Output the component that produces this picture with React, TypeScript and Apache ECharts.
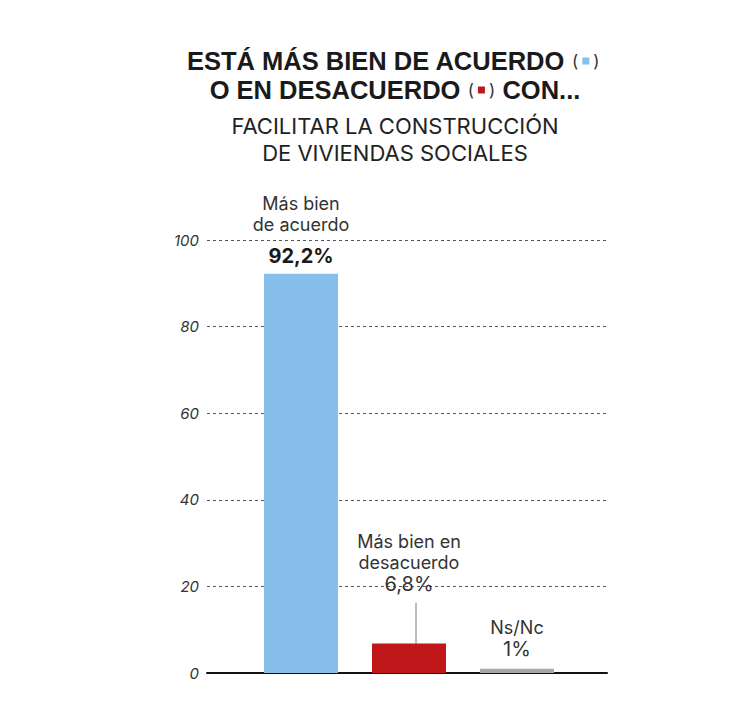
import React, { useEffect, useRef } from "react";
import * as echarts from "echarts";

const categories = ["Más bien de acuerdo", "Más bien en desacuerdo", "Ns/Nc"];
const values = [92.2, 6.8, 1];
const valueLabels = ["92,2%", "6,8%", "1%"];
const barColors = ["#85bfea", "#c0171b", "#a8a8a8"];
const yTicks = [0, 20, 40, 60, 80, 100];
const leaderTop = 16.2;

const FONT = "Inter";
const TFONT = "Liberation Sans";
const CX = 395;

export default function App() {
  const ref = useRef<HTMLDivElement>(null);
  useEffect(() => {
    const chart = echarts.init(ref.current!, null, { renderer: "svg" });
    const top = 240;
    const bottom = 31;
    const titleRich = {
      t: { fontFamily: TFONT, fontSize: 25.5, fontWeight: "bold", fill: "#1a1a1a" },
      p: { fontFamily: FONT, fontSize: 17, fill: "#333", padding: [0, 4, 0, 4] },
      b: { backgroundColor: "#85bfea", width: 7, height: 7 },
      r: { backgroundColor: "#c0171b", width: 7, height: 7 },
    };
    const option: any = {
      animation: false,
      textStyle: { fontFamily: FONT },
      graphic: [
        {
          type: "text",
          x: CX,
          y: 48,
          style: {
            text: "{t|ESTÁ MÁS BIEN DE ACUERDO} {p|(}{b|}{p|)}",
            rich: titleRich,
            align: "center",
          },
        },
        {
          type: "text",
          x: CX,
          y: 77,
          style: {
            text: "{t|O EN DESACUERDO} {p|(}{r|}{p|)} {t|CON...}",
            rich: titleRich,
            align: "center",
          },
        },
        {
          type: "text",
          x: CX,
          y: 115,
          style: {
            text: "FACILITAR LA CONSTRUCCIÓN",
            fontFamily: FONT,
            fontSize: 22,
            fill: "#222",
            align: "center",
          },
        },
        {
          type: "text",
          x: CX,
          y: 142,
          style: {
            text: "DE VIVIENDAS SOCIALES",
            fontFamily: FONT,
            fontSize: 22,
            fill: "#222",
            align: "center",
          },
        },
      ],
      grid: [
        { left: 207, right: 129, top, bottom },
        { left: 247, right: 165, top, bottom },
      ],
      xAxis: [
        {
          gridIndex: 0,
          type: "category",
          data: [""],
          axisLine: { show: true, lineStyle: { color: "#111", width: 2 } },
          axisTick: { show: false },
          axisLabel: { show: false },
        },
        {
          gridIndex: 1,
          type: "category",
          data: categories,
          axisLine: { show: false },
          axisTick: { show: false },
          axisLabel: { show: false },
        },
      ],
      yAxis: [
        {
          gridIndex: 0,
          type: "value",
          min: yTicks[0],
          max: yTicks[yTicks.length - 1],
          interval: 20,
          axisLine: { show: false },
          axisTick: { show: false },
          axisLabel: {
            margin: 8,
            fontFamily: FONT,
            fontSize: 15,
            fontStyle: "italic",
            color: "#333",
          },
          splitLine: {
            show: true,
            lineStyle: { type: [3, 3], color: "#555", width: 1 },
          },
        },
        {
          gridIndex: 1,
          type: "value",
          min: 0,
          max: 100,
          show: false,
          splitLine: { show: false },
        },
      ],
      series: [
        {
          type: "bar",
          xAxisIndex: 1,
          yAxisIndex: 1,
          barWidth: 74,
          data: values.map((v, i) => {
            let label: any;
            if (i === 0) {
              label = {
                show: true,
                position: "top",
                distance: 6,
                formatter: `{n|Más bien}\n{n|de acuerdo}\n{s| }\n{v|${valueLabels[0]}}`,
                rich: {
                  n: { fontFamily: FONT, fontSize: 18, lineHeight: 21, color: "#333", align: "center" },
                  s: { fontSize: 8, lineHeight: 9 },
                  v: { fontFamily: FONT, fontSize: 20, fontWeight: "bold", lineHeight: 24, color: "#1a1a1a", align: "center" },
                },
              };
            } else if (i === 1) {
              label = {
                show: true,
                position: "top",
                distance: 48,
                formatter: `{n|Más bien en}\n{n|desacuerdo}\n{v|${valueLabels[1]}}`,
                rich: {
                  n: { fontFamily: FONT, fontSize: 18, lineHeight: 21, color: "#333", align: "center" },
                  v: { fontFamily: FONT, fontSize: 20, lineHeight: 23, color: "#333", align: "center" },
                },
              };
            } else {
              label = {
                show: true,
                position: "top",
                distance: 9,
                formatter: `{n|Ns/Nc}\n{v|${valueLabels[2]}}`,
                rich: {
                  n: { fontFamily: FONT, fontSize: 18, lineHeight: 21, color: "#333", align: "center" },
                  v: { fontFamily: FONT, fontSize: 20, lineHeight: 22, color: "#333", align: "center" },
                },
              };
            }
            return { value: v, itemStyle: { color: barColors[i] }, label };
          }),
        },
        {
          type: "custom",
          xAxisIndex: 1,
          yAxisIndex: 1,
          silent: true,
          data: [[1, values[1], leaderTop]],
          renderItem: (params: any, api: any) => {
            const p0 = api.coord([api.value(0), api.value(1)]);
            const p1 = api.coord([api.value(0), api.value(2)]);
            return {
              type: "line",
              shape: { x1: p0[0] + 7, y1: p0[1], x2: p1[0] + 7, y2: p1[1] },
              style: { stroke: "#777", lineWidth: 1 },
            };
          },
        },
      ],
    };
    chart.setOption(option);
    return () => chart.dispose();
  }, []);
  return (
    <div
      ref={ref}
      style={{ position: "fixed", left: 0, top: 0, width: 736, height: 704, background: "#fff" }}
    />
  );
}
